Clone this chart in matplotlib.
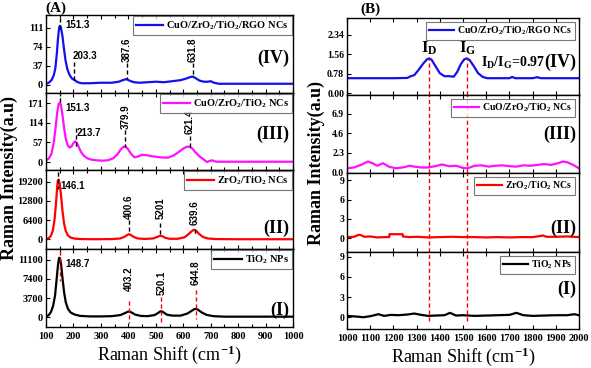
import matplotlib
matplotlib.use("Agg")
import matplotlib.pyplot as plt

plt.rcParams['font.family'] = ['Liberation Serif', 'DejaVu Serif']
plt.rcParams['font.weight'] = 'bold'
plt.rcParams['mathtext.fontset'] = 'custom'
plt.rcParams['mathtext.rm'] = 'Liberation Serif:bold'
plt.rcParams['mathtext.it'] = 'Liberation Serif:italic:bold'
plt.rcParams['mathtext.bf'] = 'Liberation Serif:bold'

# ---- panel (A): 100-1000 cm-1 ----
rgo_x = [100, 110, 120, 128, 134, 139, 144, 148, 151, 155, 160, 165, 171, 178, 186, 195, 205, 215, 230, 260,
         300, 340, 365, 380, 392, 405, 420, 440, 470, 500, 530, 560, 590, 610, 625, 635, 645, 660, 675, 690,
         700, 712, 730, 800, 900, 1000]
rgo_y = [2, 4, 9, 18, 32, 58, 92, 112, 115, 110, 95, 72, 48, 30, 19, 12, 9, 5, 3, 3,
         4, 4, 6, 9, 11, 8, 5, 4, 5, 6, 5, 7, 9, 12, 15, 16, 13, 8, 6, 6,
         7, 4, 2, 2, 2, 2]

czt_x = [100, 110, 120, 128, 135, 141, 146, 150, 154, 159, 165, 171, 178, 186, 193, 200, 206, 212, 219, 227,
         237, 250, 265, 285, 305, 325, 345, 360, 372, 382, 390, 398, 410, 422, 435, 450, 465, 485, 505, 525,
         545, 565, 585, 600, 612, 622, 632, 645, 660, 675, 687, 695, 705, 715, 725, 800, 900, 1000]
czt_y = [5, 10, 24, 55, 100, 145, 168, 172, 166, 142, 105, 72, 50, 42, 45, 55, 60, 56, 44, 30,
         19, 11, 7, 5, 4, 5, 11, 22, 36, 44, 45, 38, 24, 14, 16, 21, 20, 17, 15, 13,
         13, 19, 30, 39, 44, 45, 40, 28, 16, 7, 0, 3, 5, 2, 1, 1, 1, 1]

zt_x = [100, 110, 118, 125, 131, 136, 140, 143, 146, 150, 155, 160, 166, 172, 180, 190, 205, 230, 280, 340,
        370, 385, 395, 402, 410, 420, 435, 460, 490, 505, 512, 518, 525, 535, 550, 580, 605, 620, 632, 640,
        648, 658, 672, 690, 720, 800, 900, 1000]
zt_y = [100, 400, 1200, 3000, 6500, 11500, 16500, 19600, 19900, 18500, 14500, 9500, 5200, 2800, 1300, 600, 250, 100, 50, 100,
        300, 800, 1400, 1750, 1400, 800, 300, 150, 300, 800, 1100, 1200, 1000, 500, 200, 200, 700, 1800, 2800, 3200,
        2800, 1800, 800, 300, 100, 50, 50, 50]

ti_x = [100, 110, 118, 126, 133, 139, 144, 148, 151, 155, 160, 166, 172, 180, 190, 205, 225, 260, 300, 340,
        370, 388, 398, 404, 412, 425, 445, 470, 495, 508, 516, 521, 528, 540, 560, 590, 615, 630, 640, 646,
        655, 668, 685, 710, 750, 850, 1000]
ti_y = [100, 400, 1000, 2200, 4200, 7500, 10300, 11500, 11400, 10200, 7600, 4800, 2900, 1600, 900, 500, 250, 150, 150, 200,
        400, 800, 1050, 1100, 900, 500, 250, 200, 400, 800, 1100, 1150, 950, 500, 300, 300, 700, 1200, 1550, 1620,
        1400, 900, 450, 200, 100, 100, 100]

# ---- panel (B): 1000-2000 cm-1 ----
rgo_bx = [1000, 1100, 1200, 1260, 1275, 1290, 1310, 1330, 1345, 1355, 1365, 1380, 1400, 1420, 1440, 1460, 1475,
          1490, 1505, 1516, 1528, 1545, 1565, 1585, 1605, 1650, 1700, 1712, 1725, 1800, 1820, 1835, 1900, 2000]
rgo_by = [0.6, 0.6, 0.6, 0.61, 0.68, 0.72, 0.95, 1.2, 1.35, 1.39, 1.33, 1.1, 0.8, 0.68, 0.68, 0.66, 0.85,
          1.15, 1.35, 1.39, 1.33, 1.1, 0.8, 0.65, 0.6, 0.6, 0.6, 0.65, 0.6, 0.6, 0.64, 0.6, 0.6, 0.6]

czt_bx = [1000, 1030, 1060, 1090, 1110, 1130, 1155, 1180, 1210, 1240, 1270, 1290, 1320, 1350, 1380, 1410, 1440,
          1470, 1500, 1520, 1550, 1580, 1610, 1640, 1670, 1700, 1730, 1760, 1790, 1820, 1850, 1880, 1910, 1930,
          1950, 1975, 2000]
czt_by = [0.5, 0.6, 0.9, 1.3, 1.1, 0.8, 1.1, 0.7, 0.5, 0.6, 0.8, 0.7, 0.6, 0.6, 0.75, 0.95, 0.75,
          0.8, 0.55, 0.5, 0.8, 0.85, 0.7, 0.8, 0.85, 0.75, 0.7, 0.85, 0.8, 0.9, 1.0, 0.9, 1.1, 1.3,
          1.2, 0.9, 0.5]

zt_bx = [1000, 1030, 1050, 1060, 1075, 1100, 1130, 1160, 1182, 1183, 1240, 1241, 1270, 1300, 1350, 1400, 1450,
         1500, 1550, 1600, 1650, 1700, 1750, 1800, 1830, 1845, 1860, 1900, 1950, 2000]
zt_by = [0.2, 0.25, 0.55, 0.5, 0.25, 0.3, 0.15, 0.2, 0.2, 0.65, 0.65, 0.3, 0.2, 0.25, 0.15, 0.2, 0.25,
         0.2, 0.2, 0.15, 0.2, 0.15, 0.2, 0.2, 0.35, 0.45, 0.25, 0.25, 0.3, 0.2]

ti_bx = [1000, 1040, 1070, 1100, 1135, 1160, 1190, 1220, 1260, 1290, 1320, 1350, 1380, 1420, 1444, 1470, 1500,
         1550, 1600, 1650, 1700, 1730, 1760, 1800, 1850, 1900, 1950, 1980, 2000]
ti_by = [0.2, 0.1, 0.0, 0.15, 0.45, 0.2, 0.35, 0.3, 0.4, 0.55, 0.35, 0.2, 0.25, 0.3, 0.65, 0.25, 0.3,
         0.2, 0.25, 0.3, 0.35, 0.65, 0.3, 0.2, 0.25, 0.3, 0.3, 0.45, 0.3]

labels = ['CuO/ZrO$_2$/TiO$_2$/RGO NCs', 'CuO/ZrO$_2$/TiO$_2$ NCs', 'ZrO$_2$/TiO$_2$ NCs', 'TiO$_2$ NPs']
colors = ['#1010f0', '#ff10ff', '#ff0000', '#000000']
romans = ['(IV)', '(III)', '(II)', '(I)']

a_data = [(rgo_x, rgo_y), (czt_x, czt_y), (zt_x, zt_y), (ti_x, ti_y)]
b_data = [(rgo_bx, rgo_by), (czt_bx, czt_by), (zt_bx, zt_by), (ti_bx, ti_by)]

a_yticks = [[0, 37, 74, 111], [0, 57, 114, 171], [0, 6400, 12800, 19200], [0, 3700, 7400, 11100]]
a_ylims = [(-16, 136), (-23, 200), (-3200, 23100), (-1900, 13200)]
b_yticks = [[0, 0.78, 1.56, 2.34], [0, 2.3, 4.6, 6.9], [0, 3, 6, 9], [0, 3, 6, 9]]
b_yticklabels = [['0.00', '0.78', '1.56', '2.34'], ['0.0', '2.3', '4.6', '6.9'],
                 ['0', '3', '6', '9'], ['0', '3', '6', '9']]
b_ylims = [(-0.07, 3.0), (-0.05, 9.1), (-2.1, 10.1), (-1.75, 9.7)]

# peak annotations: (x, label, rotated, text x, text y, line y0, line y1)
a_peaks = [
    [(151, '151.3', False, 172, 117, 108, 130), (203, '203.3', False, 197, 57, 45, 3),
     (394, '387.6', True, 394, 44, 42, 11), (635, '631.8', True, 635, 44, 42, 16)],
    [(151, '151.3', False, 172, 156, 175, 198), (209, '213.7', False, 213, 84, 100, 40),
     (389, '379.9', True, 389, 97, 93, 45), (623, '621.4', True, 623, 80, 76, 45)],
    [(143, '146.1', False, 151, 17900, 22400, 16800), (401, '400.6', True, 401, 6800, 6500, 1800),
     (517, '5201', True, 517, 6800, 5500, 1000), (642, '639.6', True, 642, 4700, 3500, 1200)],
    [(150, '148.7', False, 169, 10200, 12800, 7000), (403, '403.2', True, 403, 5100, 3150, -1100),
     (520, '520.1', True, 520, 4300, 4000, -1100), (645, '644.8', True, 645, 6300, 5300, -400)],
]
a_line_colors = ['k', 'k', 'k', 'r']
a_roman_y = [0.45, 0.46, 0.26, 0.21]
b_roman_y = [0.42, 0.50, 0.30, 0.51]

id_pos, ig_pos, peak_top = 1355, 1516, 1.39

fig = plt.figure(figsize=(5.91, 3.68), dpi=100)
H = 368.0
W = 591.0
a_rows = [(15, 93), (93, 170), (170, 249), (249, 327)]
b_rows = [(18, 95), (95, 173), (173, 252), (252, 329)]

tick_kw = dict(direction='in', labelsize=7.5, length=3, width=0.8, top=True, right=False)

for i in range(4):
    y0, y1 = a_rows[i]
    ax = fig.add_axes([46 / W, 1 - y1 / H, (293 - 46) / W, (y1 - y0) / H])
    xs, ys = a_data[i]
    ax.plot(xs, ys, color=colors[i], lw=1.6, label=labels[i])
    ax.set_xlim(100, 1000)
    ax.set_ylim(*a_ylims[i])
    ax.set_yticks(a_yticks[i])
    ax.set_xticks(range(100, 1001, 100))
    ax.set_xticks(range(150, 1000, 100), minor=True)
    ax.tick_params(axis='both', which='both', **tick_kw)
    ax.tick_params(axis='x', which='minor', length=2)
    ax.tick_params(axis='y', pad=2)
    if i < 3:
        ax.tick_params(axis='x', which='both', labelbottom=False)
    for s in ax.spines.values():
        s.set_linewidth(1.0)
    leg = ax.legend(loc='upper right', fontsize=7.5, frameon=True, fancybox=False, edgecolor='#555555',
                    borderaxespad=0.1, borderpad=0.3, handlelength=2.6, handletextpad=0.3)
    leg.get_frame().set_linewidth(0.8)
    ax.text(0.985, a_roman_y[i], romans[i], transform=ax.transAxes, ha='right', va='center', fontsize=13)
    for (px, lab, rot, tx, ty, ly0, ly1) in a_peaks[i]:
        ax.plot([px, px], [ly0, ly1], color=a_line_colors[i], ls=(0, (3, 2)), lw=1.0)
        if rot:
            ax.text(tx, ty, lab, rotation=90, ha='center', va='bottom', fontsize=7,
                    family='Liberation Sans', weight='bold')
        else:
            ax.text(tx, ty, lab, ha='left', va='center', fontsize=7,
                    family='Liberation Sans', weight='bold')
    if i == 3:
        ax.set_xlabel('Raman Shift (cm$^{-1}$)', fontsize=13, labelpad=2)

for i in range(4):
    y0, y1 = b_rows[i]
    ax = fig.add_axes([347 / W, 1 - y1 / H, (579 - 347) / W, (y1 - y0) / H])
    xs, ys = b_data[i]
    ax.plot(xs, ys, color=colors[i], lw=1.6, label=labels[i])
    ax.set_xlim(1000, 2000)
    ax.set_ylim(*b_ylims[i])
    ax.set_yticks(b_yticks[i])
    ax.set_yticklabels(b_yticklabels[i])
    ax.set_xticks(range(1000, 2001, 100))
    ax.tick_params(axis='both', which='both', **tick_kw)
    ax.tick_params(axis='y', labelsize=7, pad=2)
    if i < 3:
        ax.tick_params(axis='x', labelbottom=False)
    for s in ax.spines.values():
        s.set_linewidth(1.0)
    leg = ax.legend(loc='upper right', fontsize=7, frameon=True, fancybox=False, edgecolor='#555555',
                    borderaxespad=0.4, borderpad=0.3, handlelength=2.6, handletextpad=0.3)
    leg.get_frame().set_linewidth(0.8)
    lo = b_ylims[i][0]
    top = peak_top if i == 0 else b_ylims[i][1]
    bottom = -0.5 if i == 3 else lo
    for p in (id_pos, ig_pos):
        ax.plot([p, p], [bottom, top], color='#ff0000', ls=(0, (3, 2)), lw=1.0)
    t = ax.text(0.99, b_roman_y[i], romans[i], transform=ax.transAxes,
                ha='right', va='center', fontsize=13)
    if i == 0:
        ax.text(1355, 1.45, 'I$_\\mathrm{D}$', ha='center', va='bottom', fontsize=12)
        ax.text(1522, 1.45, 'I$_\\mathrm{G}$', ha='center', va='bottom', fontsize=12)
        ax.annotate('I$_\\mathrm{D}$/I$_\\mathrm{G}$=0.97', xy=(0, 0.5), xycoords=t,
                    ha='right', va='center', fontsize=10)
    if i == 3:
        ax.set_xlabel('Raman Shift (cm$^{-1}$)', fontsize=13, labelpad=2)

fig.text(9 / W, 1 - 178 / H, 'Raman Intensity(a.u)', rotation=90, ha='center', va='center', fontsize=13)
fig.text(316 / W, 1 - 163 / H, 'Raman Intensity(a.u)', rotation=90, ha='center', va='center', fontsize=13)
fig.text(45 / W, 1 - 8 / H, '(A)', ha='left', va='center', fontsize=11)
fig.text(360 / W, 1 - 9 / H, '(B)', ha='left', va='center', fontsize=11)

fig.savefig('out.png', dpi=100)
